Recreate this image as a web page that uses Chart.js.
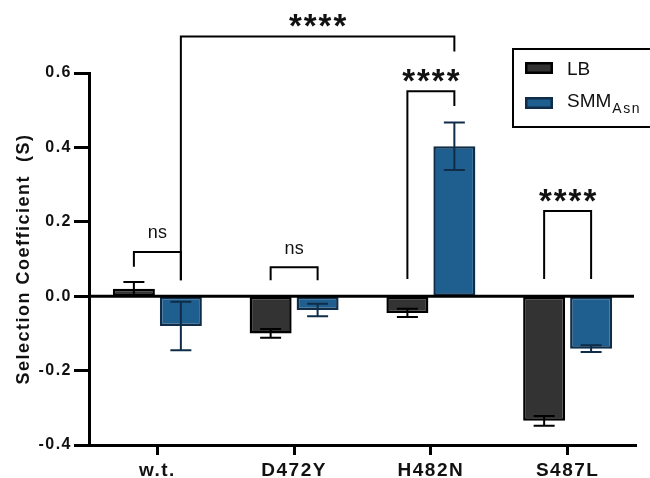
<!DOCTYPE html>
<html><head><meta charset="utf-8">
<script src="https://cdn.jsdelivr.net/npm/chart.js@4.4.1/dist/chart.umd.min.js"></script>
<style>html,body{margin:0;padding:0;background:#fff;} canvas{display:block;}</style>
</head><body>
<canvas id="c" width="650" height="478"></canvas>
<script>
const categories = ['w.t.', 'D472Y', 'H482N', 'S487L'];
const seriesNames = ['LB', 'SMM'];
const seriesSub = ['', 'Asn'];
const lbMeans = [0.020, -0.100, -0.045, -0.335];
const lbErrors = [0.018, 0.012, 0.011, 0.013];
const smmMeans = [-0.080, -0.037, 0.403, -0.141];
const smmErrors = [0.065, 0.017, 0.064, 0.009];
const yTicks = [-0.4, -0.2, 0.0, 0.2, 0.4, 0.6];
const yTitle = 'Selection Coefficient  (S)';
// significance brackets: [category, series] endpoints, bracket height and leg ends (data units)
const sigLabels = ['ns', 'ns', '****', '****', '****'];
const sigFrom = [[0, 0], [1, 0], [2, 0], [3, 0], [0, 1]];
const sigTo = [[0, 1], [1, 1], [2, 1], [3, 1], [2, 1]];
const sigTop = [0.119, 0.078, 0.551, 0.229, 0.698];
const sigLeftEnd = [0.079, 0.043, 0.046, 0.046, 0.043];
const sigRightEnd = [0.043, 0.043, 0.511, 0.046, 0.658];

const fills = ['#333333', '#1f5f8f'];
const borders = ['#000000', '#0f2d48'];
const FAMILY = '"Liberation Sans", Arial, sans-serif';

const fx = {
  id: 'fx',
  beforeUpdate(chart) { chart.ctx.letterSpacing = '1.5px'; },
  beforeDraw(chart) {
    const c = chart.ctx;
    c.save(); c.fillStyle = '#fff'; c.fillRect(0, 0, chart.width, chart.height); c.restore();
    c.letterSpacing = '1.5px';
  },
  afterDatasetsDraw(chart) {
    const ctx = chart.ctx, y = chart.scales.y, a = chart.chartArea;
    ctx.save();
    ctx.letterSpacing = '0px';
    // zero line
    const y0 = y.getPixelForValue(0);
    ctx.strokeStyle = '#000'; ctx.lineWidth = 3;
    ctx.beginPath(); ctx.moveTo(a.left, y0); ctx.lineTo(a.right - 2, y0); ctx.stroke();
    // error bars
    const means = [lbMeans, smmMeans], errs = [lbErrors, smmErrors];
    for (let s = 0; s < 2; s++) {
      const meta = chart.getDatasetMeta(s);
      ctx.strokeStyle = borders[s]; ctx.lineWidth = 2;
      meta.data.forEach((el, i) => {
        const yt = y.getPixelForValue(means[s][i] + errs[s][i]);
        const yb = y.getPixelForValue(means[s][i] - errs[s][i]);
        const x = el.x, hw = 10.5;
        ctx.beginPath();
        ctx.moveTo(x, yt); ctx.lineTo(x, yb);
        ctx.moveTo(x - hw, yt); ctx.lineTo(x + hw, yt);
        ctx.moveTo(x - hw, yb); ctx.lineTo(x + hw, yb);
        ctx.stroke();
      });
    }
    // significance brackets
    ctx.fillStyle = '#111';
    for (let k = 0; k < sigLabels.length; k++) {
      const x1 = chart.getDatasetMeta(sigFrom[k][1]).data[sigFrom[k][0]].x;
      const x2 = chart.getDatasetMeta(sigTo[k][1]).data[sigTo[k][0]].x;
      const yt = y.getPixelForValue(sigTop[k]);
      ctx.strokeStyle = '#000'; ctx.lineWidth = 2;
      ctx.beginPath();
      ctx.moveTo(x1, y.getPixelForValue(sigLeftEnd[k]));
      ctx.lineTo(x1, yt); ctx.lineTo(x2, yt);
      ctx.lineTo(x2, y.getPixelForValue(sigRightEnd[k]));
      ctx.stroke();
      const cx = (x1 + x2) / 2, cy = yt - 18.5;
      if (sigLabels[k] === 'ns') {
        ctx.font = '18px ' + FAMILY;
        ctx.textAlign = 'center'; ctx.textBaseline = 'middle';
        ctx.fillText('ns', cx, cy);
      } else {
        ctx.font = 'bold 33px ' + FAMILY;
        ctx.textAlign = 'center'; ctx.textBaseline = 'alphabetic';
        const n = sigLabels[k].length, step = 14.8;
        for (let j = 0; j < n; j++) {
          const tx = cx + (j - (n - 1) / 2) * step;
          ctx.fillText('*', tx, cy + 19);
        }
      }
    }
    ctx.restore();
  },
  afterDraw(chart) {
    const ctx = chart.ctx;
    ctx.save();
    ctx.letterSpacing = '0px';
    ctx.strokeStyle = '#000'; ctx.lineWidth = 2;
    ctx.strokeRect(513, 49, 160, 78);
    const sy = [62, 97], ty = [75, 107];
    for (let s = 0; s < 2; s++) {
      ctx.fillStyle = fills[s]; ctx.fillRect(525, sy[s], 28, 12);
      ctx.strokeStyle = borders[s]; ctx.lineWidth = 2.5; ctx.strokeRect(526.25, sy[s] + 1.25, 25.5, 9.5);
      ctx.fillStyle = '#111'; ctx.textAlign = 'left'; ctx.textBaseline = 'alphabetic';
      ctx.font = '19px ' + FAMILY;
      ctx.fillText(seriesNames[s], 567, ty[s]);
      if (seriesSub[s]) {
        const w = ctx.measureText(seriesNames[s]).width;
        ctx.font = '14px ' + FAMILY;
        ctx.letterSpacing = '1.5px';
        ctx.fillText(seriesSub[s], 567 + w + 1, ty[s] + 6);
        ctx.letterSpacing = '0px';
      }
    }
    ctx.restore();
  }
};

new Chart(document.getElementById('c'), {
  type: 'bar',
  data: {
    labels: categories,
    datasets: [
      { label: seriesNames[0], data: lbMeans, backgroundColor: fills[0], borderColor: borders[0], borderWidth: 2.5, borderSkipped: false },
      { label: seriesNames[1], data: smmMeans, backgroundColor: fills[1], borderColor: borders[1], borderWidth: 2.5, borderSkipped: false }
    ]
  },
  options: {
    responsive: false,
    animation: false,
    devicePixelRatio: 1,
    categoryPercentage: 0.687,
    barPercentage: 0.894,
    layout: { padding: { top: 73, right: 14, left: 0, bottom: 0 } },
    plugins: { legend: { display: false }, tooltip: { enabled: false } },
    scales: {
      x: {
        offset: true,
        grid: { display: true, offset: false, drawOnChartArea: false, drawTicks: true, tickLength: 10, tickWidth: 3, tickColor: '#000' },
        border: { display: true, color: '#000', width: 3 },
        ticks: { color: '#111', font: { family: FAMILY, size: 19, weight: 'bold' }, padding: 4, maxRotation: 0, autoSkip: false },
        afterFit(s) { s.height = 33; }
      },
      y: {
        min: -0.4, max: 0.6,
        afterBuildTicks(s) { s.ticks = yTicks.map(v => ({ value: v })); },
        grid: { display: true, drawOnChartArea: false, drawTicks: true, tickLength: 15, tickWidth: 3, tickColor: '#000' },
        border: { display: true, color: '#000', width: 3 },
        ticks: { color: '#111', font: { family: FAMILY, size: 16, weight: 'bold' }, padding: 2, callback: v => Number(v).toFixed(1) },
        title: { display: true, text: yTitle, color: '#111', font: { family: FAMILY, size: 18, weight: 'bold' }, padding: { top: 13, bottom: 0 } },
        afterFit(s) { s.width = 89; }
      }
    }
  },
  plugins: [fx]
});
</script>
</body></html>
